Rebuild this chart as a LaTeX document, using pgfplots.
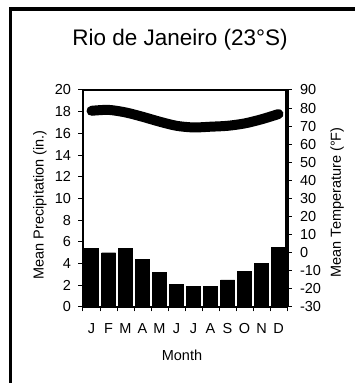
\documentclass[border=0pt]{standalone}
\usepackage{pgfplots}
\pgfplotsset{compat=1.18}
\usepackage{fontspec}
\setmainfont{Liberation Sans}
\begin{document}
\begin{tikzpicture}[x=1pt,y=1pt]
\useasboundingbox (0,0) rectangle (355,383);
\draw[line width=3.6pt] (10.5,-5) -- (10.5,373.7) -- (360,373.7);
\node[font=\fontsize{22.5}{26}\selectfont] at (180,343) {Rio de Janeiro (23°S)};
\node[font=\fontsize{14.5}{16}\selectfont, rotate=90] at (40,178) {Mean Precipitation (in.)};
\node[font=\fontsize{14.5}{16}\selectfont, rotate=90] at (337,180.5) {Mean Temperature (°F)};
\node[font=\fontsize{14.5}{16}\selectfont] at (182,28) {Month};
\begin{axis}[
  at={(83pt,76pt)}, anchor=south west,
  width=204pt, height=217pt, scale only axis,
  xmin=0.5, xmax=12.5, ymin=0, ymax=20,
  xtick={0.5,1.5,2.5,3.5,4.5,5.5,6.5,7.5,8.5,9.5,10.5,11.5,12.5},
  xticklabels={J,F,M,A,M,J,J,A,S,O,N,D},
  x tick label as interval,
  ytick={0,2,...,20},
  xtick pos=bottom, ytick pos=left,
  tick align=outside,
  major tick length=4.5pt,
  tick style={black, line width=1pt},
  axis line style={line width=2.5pt},
  ticklabel style={font=\fontsize{14.5}{14.5}\selectfont},
  yticklabel style={xshift=-4pt},
  xticklabel style={yshift=-8pt},
  /pgf/number format/assume math mode=true,
]
\addplot[ybar, bar width=14pt, fill=black, draw=black] coordinates {
(1,5.4) (2,5.0) (3,5.4) (4,4.4) (5,3.2) (6,2.1) (7,1.9) (8,1.9) (9,2.5) (10,3.3) (11,4.0) (12,5.5)};
\end{axis}
\begin{axis}[
  at={(83pt,76pt)}, anchor=south west,
  width=204pt, height=217pt, scale only axis,
  xmin=0.5, xmax=12.5, ymin=-30, ymax=90,
  axis x line=none, axis y line*=right,
  ytick={-30,-20,...,90},
  tick align=outside,
  major tick length=4.5pt,
  tick style={black, line width=1pt},
  axis line style={line width=3.5pt, -},
  ticklabel style={font=\fontsize{14.5}{14.5}\selectfont},
  yticklabel style={anchor=west, xshift=5pt},
  /pgf/number format/assume math mode=true,
]
\addplot[black, line width=10pt, smooth, line cap=round] coordinates {
(1,78.5) (2,79) (3,77.6) (4,75.2) (5,72.5) (6,70.2) (7,69.3) (8,69.7) (9,70.2) (10,71.5) (11,73.8) (12,76.7)};
\end{axis}
\end{tikzpicture}
\end{document}
